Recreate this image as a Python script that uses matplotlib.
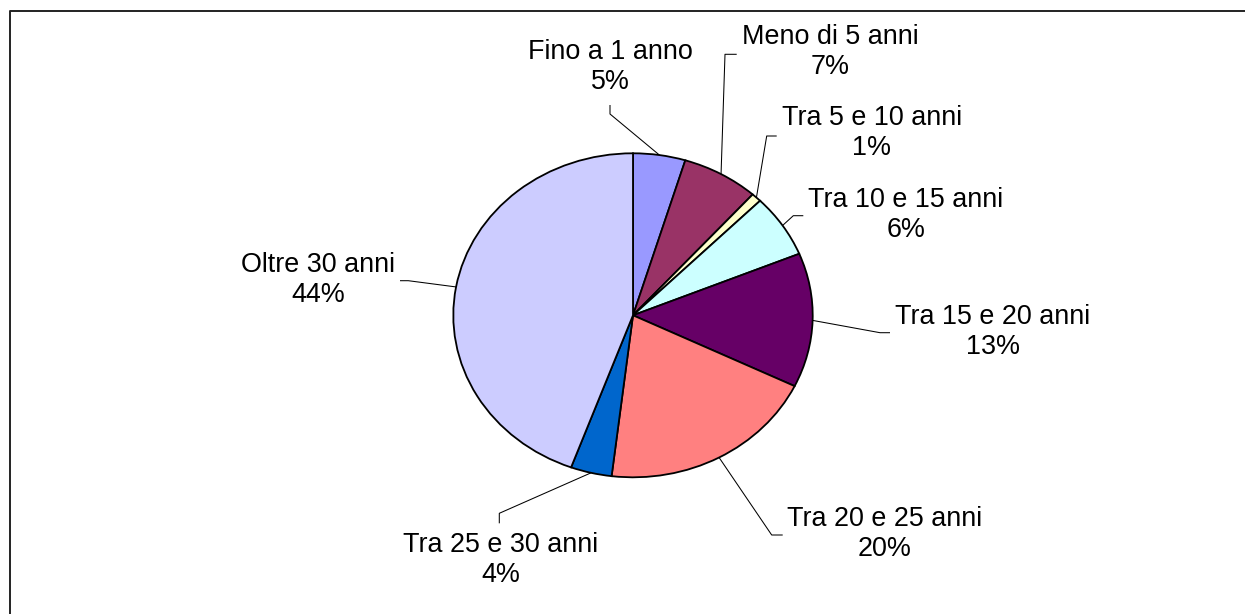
import matplotlib
matplotlib.use("Agg")
import matplotlib.pyplot as plt
from matplotlib.lines import Line2D
import numpy as np

# ---- data ----
categories = ["Fino a 1 anno", "Meno di 5 anni", "Tra 5 e 10 anni", "Tra 10 e 15 anni",
              "Tra 15 e 20 anni", "Tra 20 e 25 anni", "Tra 25 e 30 anni", "Oltre 30 anni"]
values = [4.7, 6.9, 0.9, 6.3, 13.4, 19.7, 3.7, 44.4]
pct_labels = ["5%", "7%", "1%", "6%", "13%", "20%", "4%", "44%"]
colors = ["#9999FF", "#993366", "#FFFFCC", "#CCFFFF", "#660066", "#FF8080", "#0066CC", "#CCCCFF"]

# ---- layout (pixels) ----
W, H, DPI = 1245, 614, 100
CX, CY, RX, RY = 633.0, 315.3, 179.7, 162.0

# label text centres and leader start / elbow points in pixels
label_pos = [(610.8, 66.7), (830, 52.5), (872, 133.3), (905.8, 215),
             (993, 332), (885, 534), (500.5, 560.5), (318.3, 280)]
leader_start = [(610, 105), (736.7, 54.3), (776.7, 136), (803.3, 215.7),
                (890, 332.7), (782.7, 535), (499.3, 523.3), (400, 280.7)]
leader_elbow = [(610, 114), (725, 54.3), (766.7, 136), (793.3, 215.7),
                (880, 332.7), (771.7, 535), (499.3, 513.3), (408.3, 280.7)]


def to_data(p):
    return ((p[0] - CX) / RX, (CY - p[1]) / RY)


fig = plt.figure(figsize=(W / DPI, H / DPI), dpi=DPI)
ax = fig.add_axes([0, 0, 1, 1])

wedges, _ = ax.pie(values, colors=colors, startangle=90, counterclock=False,
                   wedgeprops=dict(edgecolor="black", linewidth=1.3))
ax.set_aspect("auto")
ax.set_xlim(-CX / RX, (W - CX) / RX)
ax.set_ylim((CY - H) / RY, CY / RY)
ax.axis("off")

font = dict(family=["Liberation Sans", "DejaVu Sans"], size=19.4, color="black")

for w, cat, pct, lp, ls, le in zip(wedges, categories, pct_labels, label_pos,
                                   leader_start, leader_elbow):
    mid = np.deg2rad((w.theta1 + w.theta2) / 2.0)
    edge = (np.cos(mid), np.sin(mid))
    p0 = to_data(ls)
    p1 = to_data(le)
    ax.plot([p0[0], p1[0], edge[0]], [p0[1], p1[1], edge[1]],
            color="black", linewidth=0.75, solid_capstyle="butt")
    tx, ty = to_data(lp)
    ax.text(tx, ty, f"{cat}\n{pct}", ha="center", va="center",
            linespacing=1.2, **font)

# chart area border (top and left visible)
bx = 9.5 / W
by = 1 - 10.5 / H
fig.add_artist(Line2D([bx, bx, 1.0], [0.0, by, by], color="#222222",
                      linewidth=1.4, transform=fig.transFigure))

fig.savefig("out.png", dpi=DPI, facecolor="white")
